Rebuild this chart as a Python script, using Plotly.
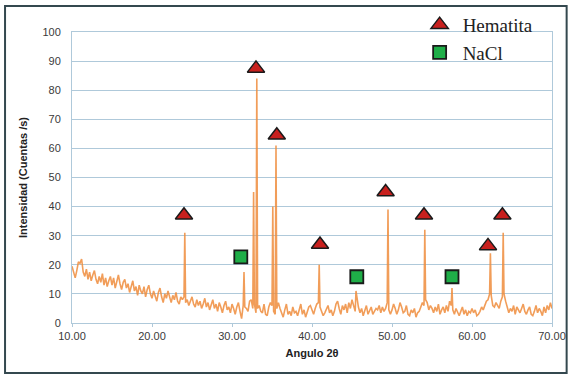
import plotly.graph_objects as go

# ---------------- data ----------------
# background pattern sampled every 0.2 degrees from 10.0 to 70.0
fondo_inicio = 10.0
fondo_paso = 0.2
fondo_intensidad = [
    19.5, 17.0, 15.5, 18.0, 21.0, 20.5, 22.0, 17.5, 16.0, 18.5,   # 10-12
    15.0, 17.5, 14.5, 16.5, 18.0, 15.0, 13.5, 16.0, 14.0, 17.0,   # 12-14
    13.0, 15.5, 12.5, 14.5, 16.0, 13.0, 15.5, 12.0, 14.0, 16.5,   # 14-16
    13.5, 11.5, 14.0, 15.0, 12.0, 13.5, 10.5, 12.5, 14.5, 11.0,   # 16-18
    12.5, 9.5, 13.0, 11.0, 10.0, 12.5, 9.0, 11.5, 13.0, 10.0,     # 18-20
    8.5, 11.0, 9.5, 7.5, 10.5, 12.0, 9.0, 7.0, 10.0, 8.5,         # 20-22
    11.0, 9.0, 7.0, 9.5, 8.0, 10.5, 7.5, 6.5, 9.0, 8.0,           # 22-24
    9.0, 7.0, 8.0, 6.0, 7.5, 9.0, 6.5, 5.5, 8.0, 6.0,             # 24-26
    7.5, 5.0, 6.5, 8.5, 5.5, 7.0, 4.5, 6.0, 8.0, 5.0,             # 26-28
    6.5, 4.0, 7.0, 5.5, 3.5, 6.0, 7.5, 4.5, 5.5, 3.5,             # 28-30
    6.5, 5.0, 3.0, 5.5, 7.0, 4.0, 1.5, 6.0, 5.5, 5.0,             # 30-32
    4.0, 7.5, 8.0, 5.0, 6.5, 3.5, 5.0, 6.0, 4.0, 3.5,             # 32-34
    6.5, 3.0, 2.5, 5.5, 7.0, 6.0, 4.0, 3.0, 5.0, 7.0,             # 34-36
    5.0, 3.5, 2.0, 4.5, 6.5, 3.0, 4.0, 2.5, 5.5, 3.5,             # 36-38
    4.0, 2.5, 5.0, 6.5, 3.0, 4.5, 2.0, 3.5, 5.5, 6.0,             # 38-40
    4.5, 3.0, 5.0, 6.5, 7.0, 5.5, 4.0, 2.5, 3.5, 5.0,             # 40-42
    6.0, 3.5, 4.5, 2.5, 4.0, 6.5, 7.5, 5.0, 3.0, 6.0,             # 42-44
    4.5, 6.5, 3.5, 7.0, 5.0, 8.0, 6.0, 4.0, 9.0, 5.5,             # 44-46
    3.5, 5.0, 2.5, 4.0, 6.0, 3.0, 4.5, 5.5, 3.0, 4.0,             # 46-48
    5.0, 4.5, 6.0, 3.5, 5.5, 4.0, 5.0, 7.0, 4.5, 3.0,             # 48-50
    4.5, 6.5, 5.0, 3.0, 4.5, 7.0, 5.5, 3.5, 4.0, 6.0,             # 50-52
    3.0, 2.5, 4.5, 3.5, 5.0, 2.0, 3.5, 4.0, 5.5, 7.0,             # 52-54
    6.0, 8.0, 7.0, 4.5, 6.0, 5.0, 3.5, 5.5, 4.0, 6.5,             # 54-56
    3.0, 4.5, 5.5, 3.5, 6.0, 4.0, 7.5, 6.0, 4.5, 3.0,             # 56-58
    5.0, 3.5, 2.5, 4.0, 5.5, 3.0, 4.5, 2.5, 4.0, 3.5,             # 58-60
    5.0, 3.5, 4.5, 2.5, 3.0, 4.0, 5.5, 4.5, 6.0, 7.5,             # 60-62
    8.0, 10.0, 9.5, 6.0, 5.5, 7.0, 6.0, 5.0, 7.5, 9.0,            # 62-64
    10.0, 7.5, 5.0, 3.5, 5.0, 4.0, 6.0, 3.0, 5.5, 4.5,            # 64-66
    3.5, 5.0, 6.5, 4.0, 3.0, 4.5, 5.5, 3.0, 2.5, 4.0,             # 66-68
    6.0, 3.5, 5.0, 4.0, 2.5, 5.5, 3.5, 6.0, 4.5, 7.0,             # 68-70
    5.0,
]

# diffraction peaks (angle 2-theta, intensity)
pico_angulo = [24.1, 31.5, 32.7, 33.1, 35.1, 35.5, 40.9, 45.5, 49.5, 54.1, 57.5, 62.3, 63.9]
pico_intensidad = [31.0, 17.5, 45.0, 84.0, 40.0, 61.0, 20.0, 11.0, 39.0, 32.0, 12.0, 24.0, 31.0]

# phase markers
hematita_angulo = [24.0, 33.0, 35.6, 41.0, 49.2, 54.0, 62.0, 63.8]
hematita_intensidad = [37.0, 87.5, 64.5, 27.0, 45.0, 37.0, 26.5, 37.0]
nacl_angulo = [31.1, 45.6, 57.5]
nacl_intensidad = [22.7, 15.9, 15.9]

x_ticks = [10, 20, 30, 40, 50, 60, 70]
x_tick_labels = ["10.00", "20.00", "30.00", "40.00", "50.00", "60.00", "70.00"]
y_ticks = [0, 10, 20, 30, 40, 50, 60, 70, 80, 90, 100]

# ---------------- build pattern ----------------
puntos = [(round(fondo_inicio + i * fondo_paso, 2), v) for i, v in enumerate(fondo_intensidad)]
puntos += list(zip(pico_angulo, pico_intensidad))
puntos.sort()
angulo = [p[0] for p in puntos]
intensidad = [p[1] for p in puntos]

fig = go.Figure()
fig.add_trace(go.Scatter(
    x=angulo, y=intensidad, mode="lines",
    line=dict(color="rgba(238,140,60,0.85)", width=1.6),
    showlegend=False, hoverinfo="skip",
))
fig.add_trace(go.Scatter(
    x=hematita_angulo, y=hematita_intensidad, mode="markers", name="Hematita",
    legendgroup="h",
    marker=dict(symbol="triangle-up", size=15, color="#C8201E",
                line=dict(color="#1a1a1a", width=1.5)),
))
fig.add_trace(go.Scatter(
    x=nacl_angulo, y=nacl_intensidad, mode="markers", name="NaCl",
    legendgroup="n",
    marker=dict(symbol="square", size=13, color="#1FAE48",
                line=dict(color="#1a1a1a", width=1.8)),
))

grid = "#AFC9DA"
fig.update_layout(
    width=573, height=378,
    margin=dict(l=72, r=21, t=32, b=55, autoexpand=False),
    paper_bgcolor="white", plot_bgcolor="white",
    font=dict(family="Liberation Sans, Arial, sans-serif", size=11, color="#3a3a3a"),
    xaxis=dict(
        range=[10, 70], tickvals=x_ticks, ticktext=x_tick_labels,
        showgrid=False, zeroline=False,
        showline=True, linecolor=grid, linewidth=1, mirror=True,
        ticks="outside", ticklen=3, tickcolor=grid,
        title=dict(text="<b>Angulo 2θ</b>", font=dict(size=11, color="#222"), standoff=8),
    ),
    yaxis=dict(
        range=[0, 100], tickvals=y_ticks,
        showgrid=True, gridcolor=grid, gridwidth=1, zeroline=False,
        showline=True, linecolor=grid, linewidth=1, mirror=True,
        ticks="", ticklabelstandoff=8,
        title=dict(text="<b>Intensidad (Cuentas /s)</b>", font=dict(size=11, color="#222"), standoff=12),
    ),
    legend=dict(
        x=0.718, y=1.09, xanchor="left", yanchor="top",
        bgcolor="rgba(0,0,0,0)", borderwidth=0, itemwidth=36,
        font=dict(family="Liberation Serif, Times New Roman, serif", size=19, color="#222"),
        tracegroupgap=0,
    ),
    shapes=[dict(
        type="rect", xref="paper", yref="paper",
        x0=-0.1395, x1=1.0305, y0=-0.1718, y1=1.0893,
        line=dict(color="#34484f", width=2), fillcolor="rgba(0,0,0,0)", layer="below",
    )],
)

fig.write_html("out.html", config={"displayModeBar": False},
               post_script="document.body.style.margin='0';")
